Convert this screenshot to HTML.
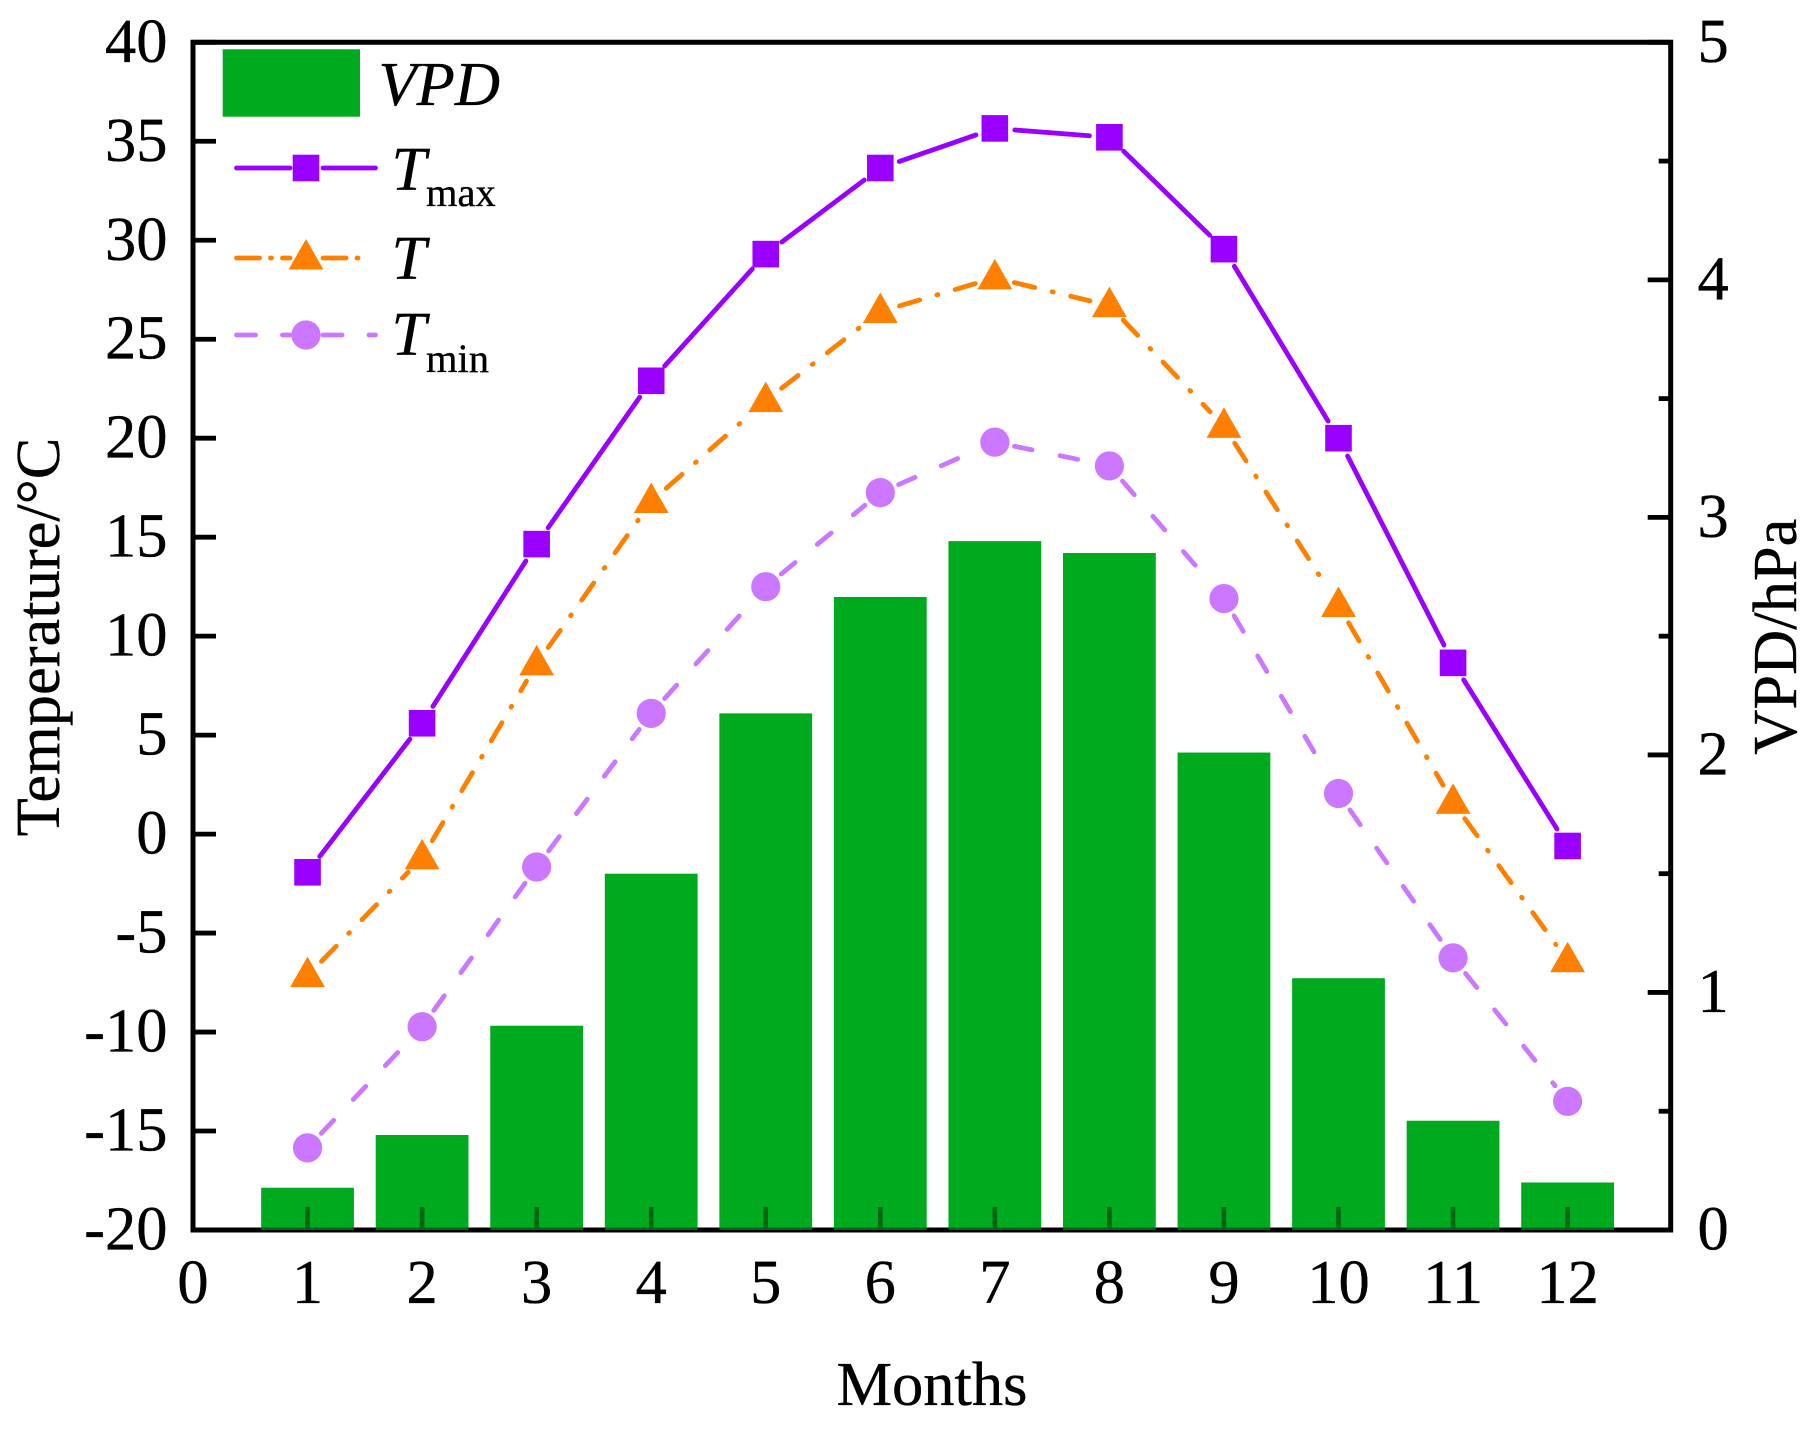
<!DOCTYPE html>
<html lang="en">
<head>
<meta charset="utf-8">
<title>Monthly temperature and VPD</title>
<style>
html,body{margin:0;padding:0;background:#fff}
svg{display:block}
text{font-family:"Liberation Serif",serif;fill:#000;stroke:#000;stroke-width:.35px}
</style>
</head>
<body>
<svg id="chart" width="1815" height="1437" viewBox="0 0 1815 1437" xmlns="http://www.w3.org/2000/svg"></svg>
<script>
// Chart data
const months = [1, 2, 3, 4, 5, 6, 7, 8, 9, 10, 11, 12];
const vpd = [0.178, 0.40, 0.86, 1.50, 2.175, 2.665, 2.90, 2.85, 2.01, 1.06, 0.46, 0.20];
const tMax = [-1.93, 5.6, 14.65, 22.9, 29.3, 33.65, 35.65, 35.2, 29.55, 20.0, 8.65, -0.6];
const tMean = [-7.15, -1.2, 8.6, 16.8, 21.9, 26.4, 28.1, 26.7, 20.6, 11.55, 1.6, -6.4];
const tMin = [-15.85, -9.73, -1.66, 6.1, 12.5, 17.25, 19.8, 18.6, 11.9, 2.05, -6.25, -13.5];
const xTickLabels = [0, 1, 2, 3, 4, 5, 6, 7, 8, 9, 10, 11, 12];
const leftTickLabels = [-20, -15, -10, -5, 0, 5, 10, 15, 20, 25, 30, 35, 40];
const rightTickLabels = [0, 1, 2, 3, 4, 5];
const rightMinorTicks = [0.5, 1.5, 2.5, 3.5, 4.5];

const plotLeft = 193, plotRight = 1670.7, plotTop = 42.3, plotBottom = 1230;
const xMax = 12.9, tLow = -20, tHigh = 40, vLow = 0, vHigh = 5;
const barWidthUnits = 0.81;
const GREEN = '#00aa1e', PURPLE = '#9900ff', ORANGE = '#ff8000', LILAC = '#cc77ff';
const FS = 62.5;
const LW = 4.8;

function xAt(v) { return plotLeft + (v / xMax) * (plotRight - plotLeft); }
function yT(v) { return plotBottom - ((v - tLow) / (tHigh - tLow)) * (plotBottom - plotTop); }
function yV(v) { return plotBottom - ((v - vLow) / (vHigh - vLow)) * (plotBottom - plotTop); }

const svg = document.getElementById('chart');
function make(tag, attrs, text) {
  const e = document.createElementNS('http://www.w3.org/2000/svg', tag);
  for (const k in attrs) e.setAttribute(k, attrs[k]);
  if (text !== undefined) e.textContent = text;
  svg.appendChild(e);
  return e;
}
function drawMarker(kind, x, y, color) {
  let m;
  if (kind === 'square') {
    m = make('rect', { x: x - 13.3, y: y - 13.3, width: 26.6, height: 26.6, fill: color });
  } else if (kind === 'triangle') {
    m = make('polygon', { points: (x - 17.4) + ',' + (y + 11.5) + ' ' + (x + 17.4) + ',' + (y + 11.5) + ' ' + x + ',' + (y - 19), fill: color });
  } else {
    m = make('circle', { cx: x, cy: y, r: 14.6, fill: color });
  }
  return m;
}
function drawSeries(values, color, dash, kind, name) {
  const gap = 20;
  for (let i = 0; i < values.length - 1; i++) {
    const x1 = xAt(months[i]), y1 = yT(values[i]), x2 = xAt(months[i + 1]), y2 = yT(values[i + 1]);
    const len = Math.hypot(x2 - x1, y2 - y1);
    if (len <= 2 * gap) continue;
    const ux = (x2 - x1) / len, uy = (y2 - y1) / len;
    const seg = make('line', { x1: x1 + ux * gap, y1: y1 + uy * gap, x2: x2 - ux * gap, y2: y2 - uy * gap, stroke: color, 'stroke-width': LW, 'stroke-linecap': 'round', 'stroke-dasharray': dash });
    
    
  }
  values.forEach(function (v, i) {
    const m = drawMarker(kind, xAt(months[i]), yT(v), color);
    
    
  });
}

// Axis frame under the bars
const frame = make('path', { d: 'M' + plotLeft + ' ' + plotBottom + 'V' + plotTop + 'H' + plotRight + 'V' + plotBottom + 'Z', fill: 'none', stroke: '#000', 'stroke-width': 5, 'stroke-linejoin': 'miter' });



// Left axis ticks and labels
leftTickLabels.forEach(function (v) {
  const y = yT(v);
  const t = make('line', { x1: plotLeft, x2: plotLeft + 23, y1: y, y2: y, stroke: '#000', 'stroke-width': 4.8 });
  
  
  const l = make('text', { x: 167.5, y: y + 19.5, 'text-anchor': 'end', 'font-size': FS }, String(v));
  
  
});

// Right axis ticks and labels
rightTickLabels.forEach(function (v) {
  const y = yV(v);
  const t = make('line', { x1: plotRight - 23, x2: plotRight, y1: y, y2: y, stroke: '#000', 'stroke-width': 4.8 });
  
  
  const l = make('text', { x: 1697.5, y: y + 19.5, 'font-size': FS }, String(v));
  
  
});
rightMinorTicks.forEach(function (v) {
  const y = yV(v);
  const t = make('line', { x1: plotRight - 12, x2: plotRight, y1: y, y2: y, stroke: '#000', 'stroke-width': 4.8 });
  
  
});

// Bars
vpd.forEach(function (v, i) {
  const w = barWidthUnits * (plotRight - plotLeft) / xMax;
  const top = yV(v);
  const b = make('rect', { x: xAt(months[i]) - w / 2, y: top, width: w, height: plotBottom - top, fill: GREEN });
  
  
});

// X axis ticks drawn over the bars, showing through as dark green
const axisShade = make('line', { x1: plotLeft, x2: plotRight, y1: plotBottom - 1.25, y2: plotBottom - 1.25, stroke: '#000', 'stroke-opacity': 0.4, 'stroke-width': 2.5 });


xTickLabels.forEach(function (v) {
  const x = xAt(v);
  if (v > 0) {
    const t = make('line', { x1: x, x2: x, y1: plotBottom - 23, y2: plotBottom - 2.5, stroke: '#000', 'stroke-opacity': 0.4, 'stroke-width': 4.6 });
    
    
  }
  const l = make('text', { x: x, y: 1303, 'text-anchor': 'middle', 'font-size': FS }, String(v));
  
  
});

// Series
drawSeries(tMax, PURPLE, 'none', 'square', 'tmax');
drawSeries(tMean, ORANGE, '21 18 1 18', 'triangle', 'tmean');
drawSeries(tMin, LILAC, '18 28.6', 'circle', 'tmin');

// Axis titles
const xTitle = make('text', { x: 932, y: 1405, 'text-anchor': 'middle', 'font-size': FS }, 'Months');


const yTitle = make('text', { transform: 'translate(59 637) rotate(-90)', 'text-anchor': 'middle', 'font-size': FS }, 'Temperature/°C');


const y2Title = make('text', { transform: 'translate(1796 636.7) rotate(-90)', 'text-anchor': 'middle', 'font-size': FS }, 'VPD/hPa');



// Legend
const lgPatch = make('rect', { x: 222.7, y: 49.3, width: 137.3, height: 67.4, fill: GREEN });


const lgVpd = make('text', { x: 378.5, y: 105, 'font-size': FS, 'font-style': 'italic' }, 'VPD');



function legendRow(name, color, dash, kind, lineY, lineEnd, baseY, sub, subY) {
  [[236.5, 290], [323, lineEnd]].forEach(function (s) {
    const ln = make('line', { x1: s[0], x2: s[1], y1: lineY, y2: lineY, stroke: color, 'stroke-width': LW, 'stroke-linecap': 'round', 'stroke-dasharray': dash });
    
    
  });
  const m = drawMarker(kind, 306, lineY, color);
  
  
  const t = make('text', { x: 391.5, y: baseY, 'font-size': FS, 'font-style': 'italic' }, 'T');
  
  
  if (sub) {
    const st = make('text', { x: 426, y: subY, 'font-size': 40.5 }, sub);
    
    
  }
}
legendRow('tmax', PURPLE, 'none', 'square', 168, 375.5, 190, 'max', 206);
legendRow('tmean', ORANGE, '23 11 1 11', 'triangle', 258, 367, 279, '', 0);
legendRow('tmin', LILAC, '19 27', 'circle', 335, 375.5, 355, 'min', 372);
</script>
</body>
</html>
